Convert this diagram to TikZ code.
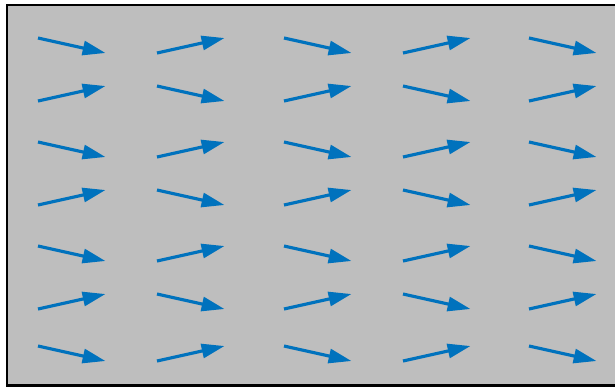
\documentclass[tikz,border=0pt]{standalone}
\usetikzlibrary{arrows.meta}
\definecolor{quivblue}{RGB}{0,114,189}
\definecolor{quivgray}{RGB}{190,190,190}
\begin{document}
\begin{tikzpicture}[x=0.02cm, y=-0.02cm]
		\useasboundingbox (0, 0) rectangle (615, 387);
		\draw[fill=quivgray, line width=1.5pt] (7, 5) rectangle (618, 385.5);
		\foreach \x [count=\i] in {38, 157, 284, 403, 529}
			\foreach \y [count=\j] in {45.5, 93.5, 149.5, 197.5, 253.5, 301.5, 353.5} {
				\pgfmathsetmacro{\s}{ifthenelse(mod(\i+\j,2)==0, 1, -1)}
				\draw[-{Triangle[length=13pt, width=8pt]}, quivblue, line width=1.8pt]
					(\x, \y-7.5*\s) -- (\x+67.5, \y+7.5*\s);
			}
\end{tikzpicture}
\end{document}
